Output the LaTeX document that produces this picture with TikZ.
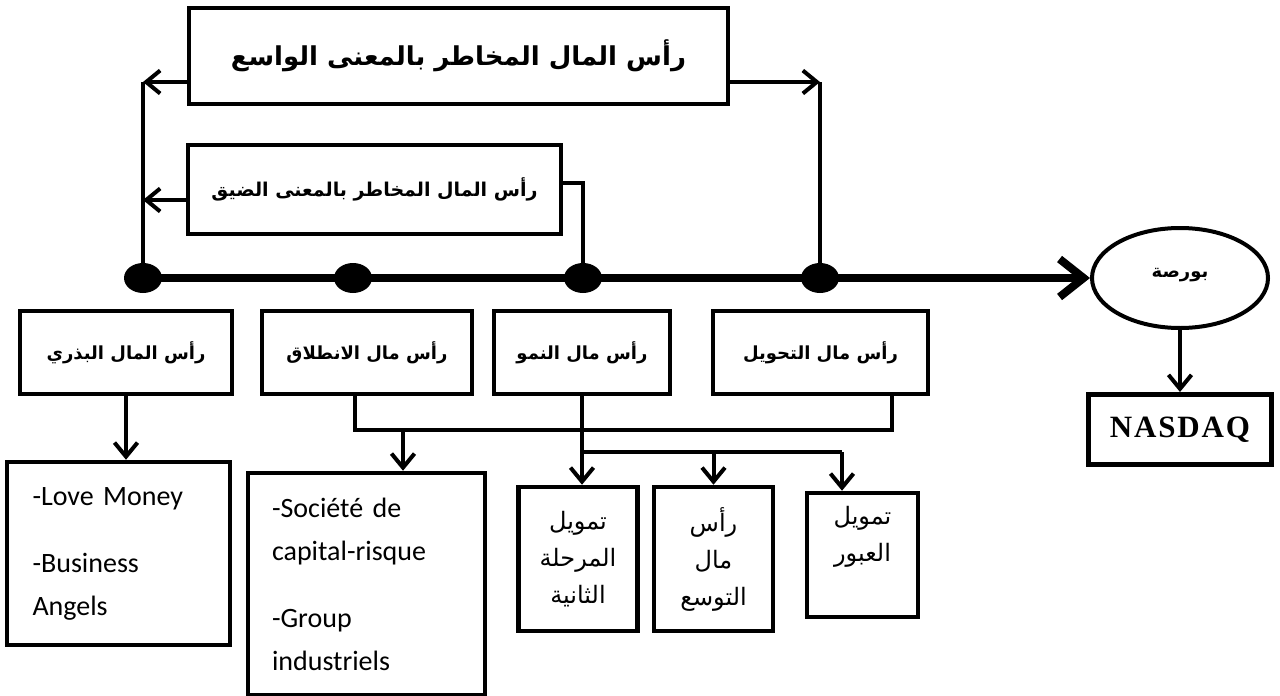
\documentclass[tikz,border=0pt]{standalone}
\usepackage{fontspec}
\setmainfont{Carlito}
\newfontfamily\arabicfont[Script=Arabic]{DejaVu Sans}
\newfontfamily\serifbold[LetterSpace=6]{Liberation Serif}
\TeXXeTstate=1
\newcommand{\artxt}[1]{{\arabicfont\beginR #1\endR}}
\usetikzlibrary{arrows.meta,shapes.geometric,positioning}

\begin{document}
\begin{tikzpicture}[x=1pt,y=-1pt,
                    >={Straight Barb[length=14pt,width=23pt]},
                    frame/.style={draw,line width=4.5pt,inner sep=0pt,align=center},
                    tag/.style={frame,line width=4pt,minimum height=83pt,
                                font=\bfseries\fontsize{18}{22}\selectfont},
                    leaf/.style={frame,minimum width=119pt,minimum height=144pt,
                                 font=\fontsize{24}{37}\selectfont},
                    list/.style={frame,align=left,font=\fontsize{28}{43}\selectfont},
                    dot/.style={ellipse,fill,inner sep=0pt,
                                minimum width=38pt,minimum height=30pt},
                    conn/.style={line width=4pt},
                    trunk/.style={line width=8pt,
                                  >={Straight Barb[length=24pt,width=38pt]}}]
  \useasboundingbox (0,0) rectangle (1280,696);

  \node[frame,minimum width=539pt,minimum height=96pt,
        font=\bfseries\fontsize{26}{32}\selectfont] (wide) at (458.5,56)
       {\artxt{رأس المال المخاطر بالمعنى الواسع}};
  \node[frame,minimum width=373pt,minimum height=89pt,
        font=\bfseries\fontsize{19}{24}\selectfont] (narrow) at (374.5,189.5)
       {\artxt{رأس المال المخاطر بالمعنى الضيق}};

  \coordinate (d1) at (143,278);
  \coordinate (d2) at (353,278);
  \coordinate (d3) at (583,278);
  \coordinate (d4) at (820,278);

  \node[ellipse,draw,line width=4pt,inner sep=0pt,
        minimum width=176pt,minimum height=100pt,
        font=\bfseries\fontsize{18}{22}\selectfont] (bourse) at (1180,278)
       {\raisebox{10pt}{\artxt{بورصة}}};
  \node[frame,minimum width=183pt,minimum height=70pt,below=62pt of bourse,
        font=\serifbold\bfseries\fontsize{31}{34}\selectfont] (nasdaq) {NASDAQ};

  \node[tag,minimum width=212pt] (seed) at (126,352.5) {\artxt{رأس المال البذري}};
  \node[tag,minimum width=210pt] (start) at (367,352.5) {\artxt{رأس مال الانطلاق}};
  \node[tag,minimum width=176pt] (growth) at (582,352.5) {\artxt{رأس مال النمو}};
  \node[tag,minimum width=215pt] (transfer) at (820.5,352.5) {\artxt{رأس مال التحويل}};

  \node[list,text width=172pt,minimum width=223pt,minimum height=183pt] (love)
       at (118.5,553.5) {-Love Money\\[24pt]-Business\\Angels};
  \node[list,text width=189pt,minimum width=237pt,minimum height=222pt] (soc)
       at (366.5,584) {-Société de\\capital-risque\\[24pt]-Group\\industriels};

  \node[leaf] (stage) at (578,559)
       {\artxt{تمويل}\\\artxt{المرحلة}\\\artxt{الثانية}};
  \node[leaf] (expand) at (713.5,559)
       {\artxt{رأس}\\\artxt{مال}\\\artxt{التوسع}};
  \node[leaf,minimum width=111pt,minimum height=124pt] (bridge) at (862.5,555)
       {\artxt{تمويل}\\\artxt{العبور}\\[6pt]};

  % broad sense spans the first to the last stage, narrow sense stops at
  % growth: the vertical legs come up from the dots, the arrows end on them
  \coordinate (tl) at (143,82);
  \coordinate (tr) at (820,82);
  \coordinate (ml) at (143,200);
  \draw[conn] (d1) -- (tl);
  \draw[conn] (d4) -- (tr);
  \draw[conn,->] (wide.west |- tl) -- (tl);
  \draw[conn,->] (wide.east |- tr) -- (tr);
  \draw[conn,->] (narrow.west |- ml) -- (ml);
  \draw[conn] ([yshift=6.5pt]narrow.east) -| (d3);

  \draw[trunk,->] (d1) -- (bourse.west);
  \draw[conn,->] (bourse.south) -- (nasdaq.north);

  \draw[conn,->] (seed.south) -- (seed.south |- love.north);

  \coordinate (jl) at (355,430);
  \coordinate (jr) at (892,430);
  \coordinate (ja) at (403,430);
  \draw[conn] (start.south -| jl) |- (jr) -- (transfer.south -| jr);
  \draw[conn,->] (ja) -- (ja |- soc.north);

  \coordinate (fa) at (582,452);
  \coordinate (fc) at (842,452);
  \draw[conn] (growth.south) -- (fa) -- (fc);
  \draw[conn,->] (fa) -- (fa |- stage.north);
  \draw[conn,->] (fa -| expand) -- (expand.north);
  \draw[conn,->] (fc) -- (fc |- bridge.north);

  \foreach \d in {d1,d2,d3,d4}
    \node[dot] at (\d) {};
\end{tikzpicture}
\end{document}
